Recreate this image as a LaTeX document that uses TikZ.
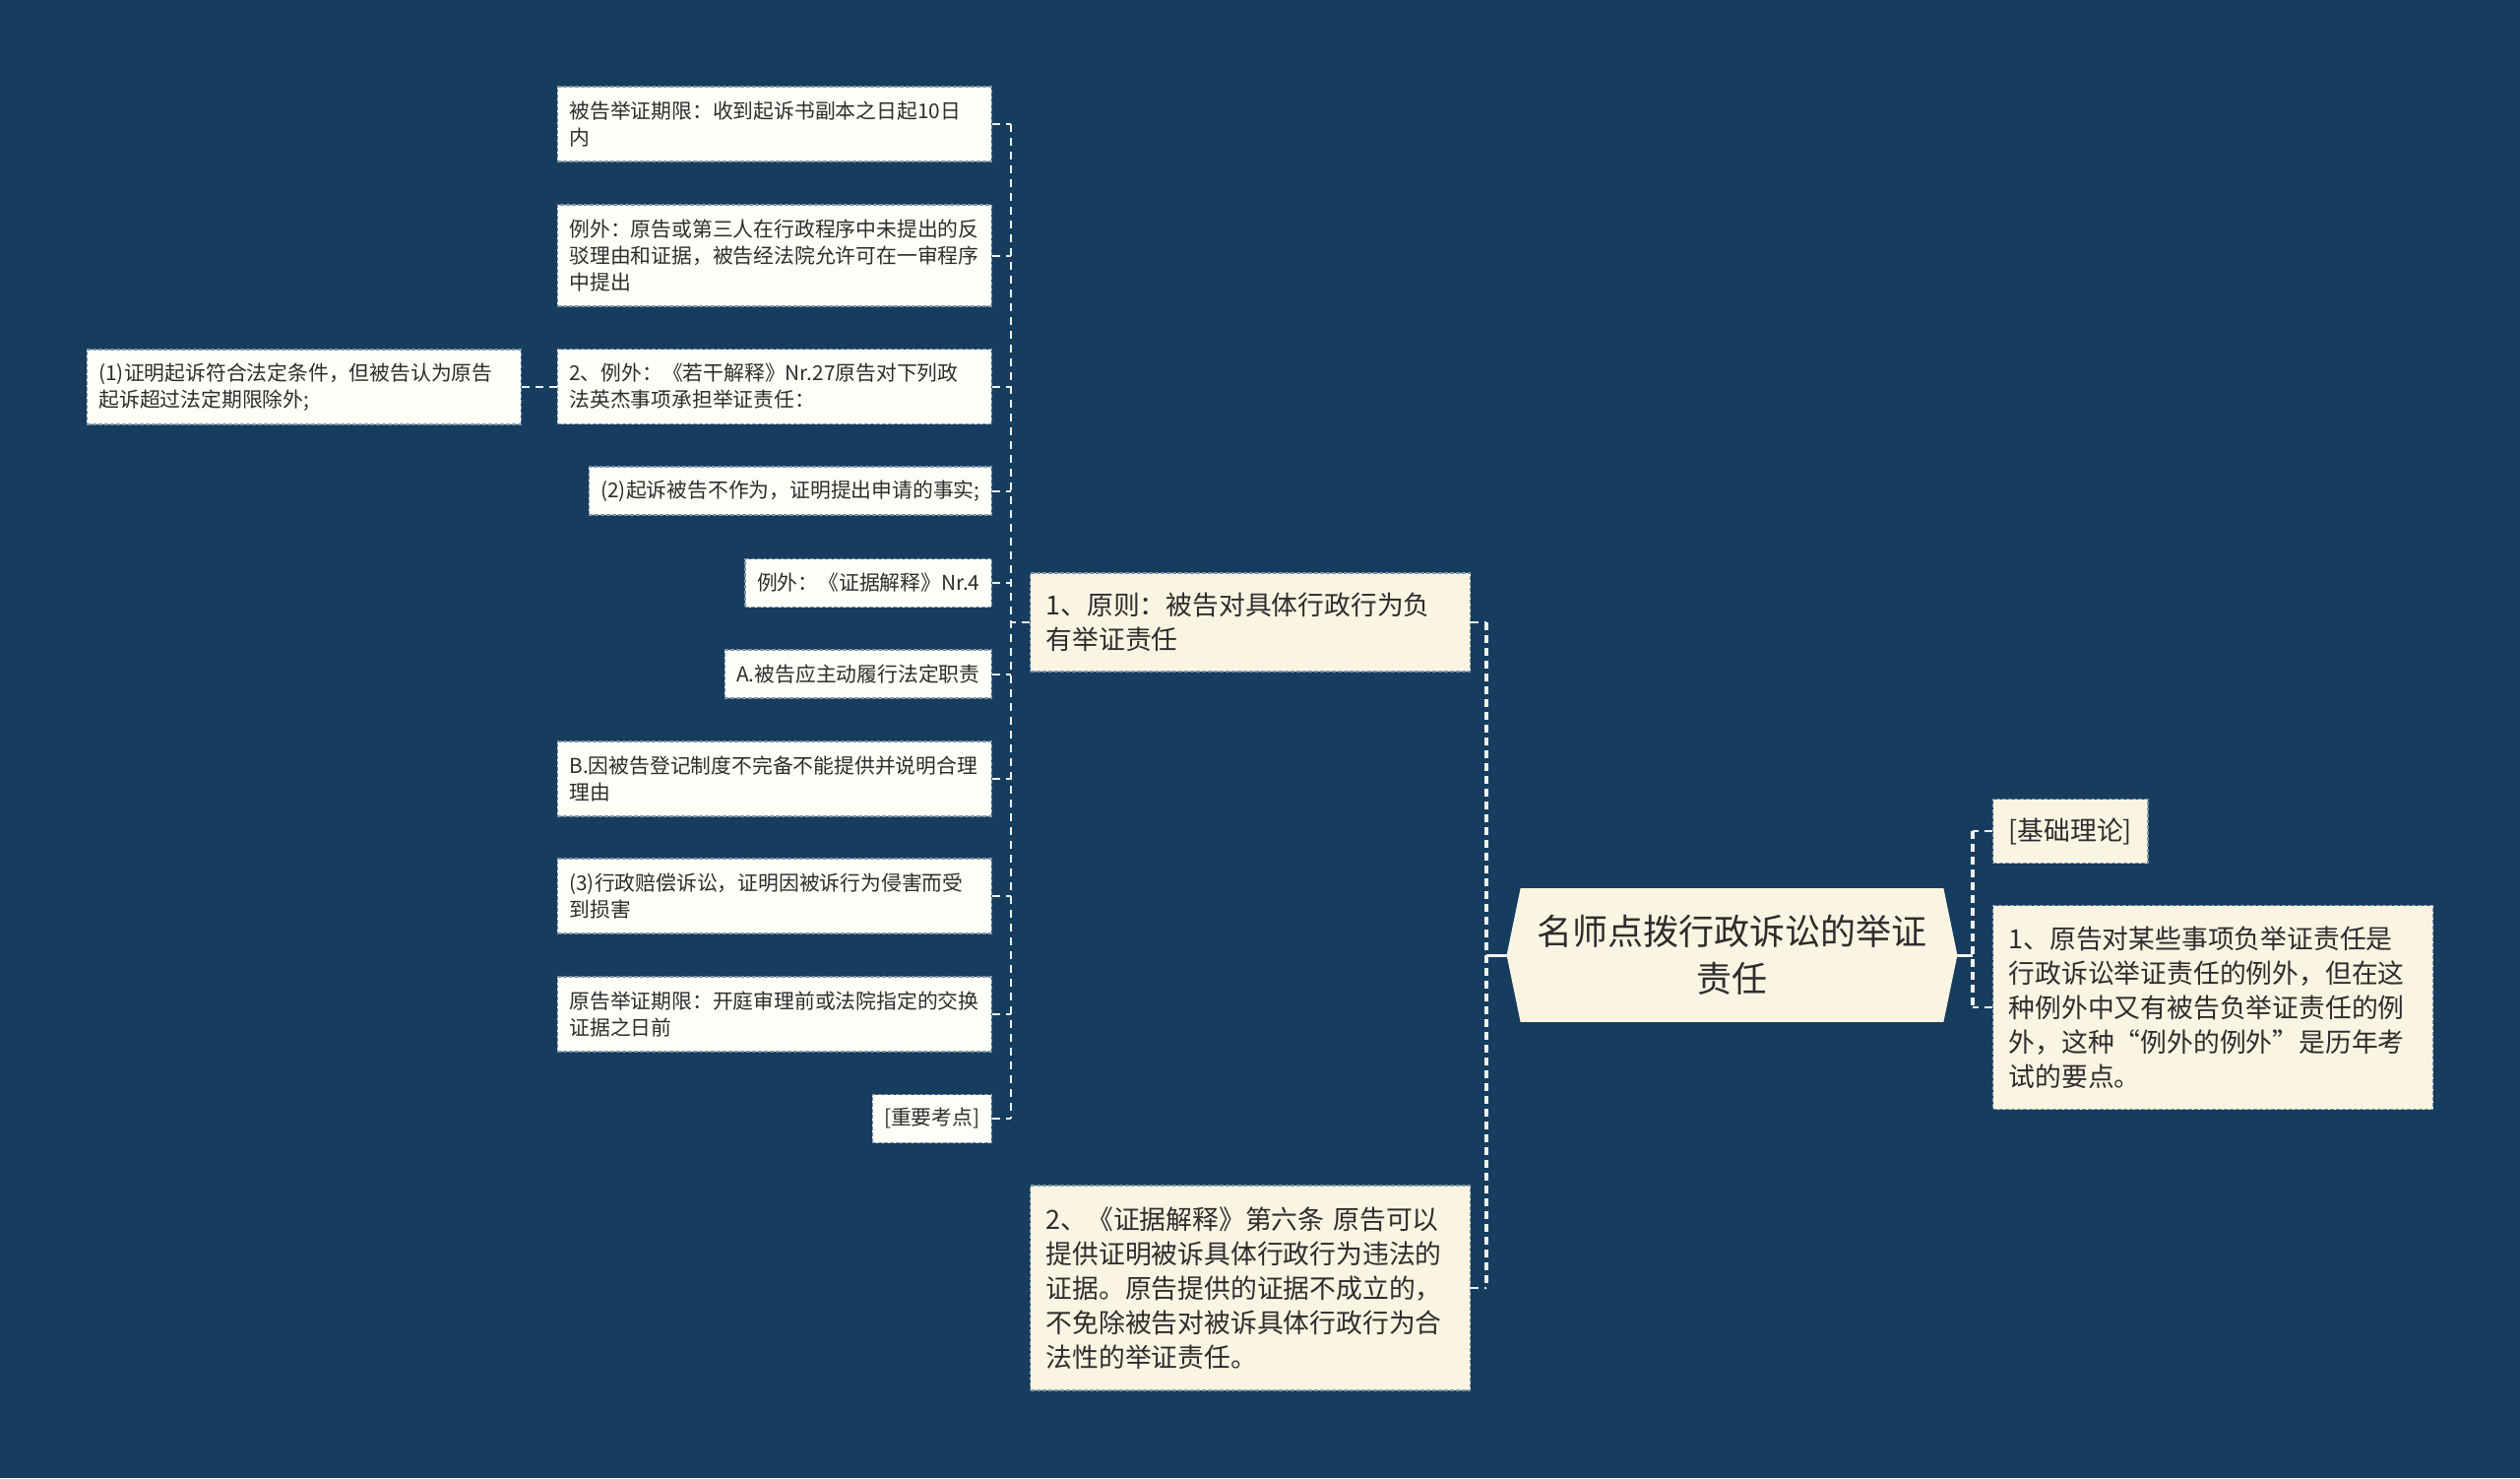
\documentclass[tikz,border=0pt]{standalone}
\usepackage{fontspec}
\setmainfont{Noto Sans CJK SC}
\usepackage{xcolor}
\definecolor{bgblue}{RGB}{23,61,94}
\definecolor{leafwhite}{RGB}{254,254,248}
\definecolor{creamfill}{RGB}{250,244,226}
\definecolor{textgray}{RGB}{45,45,45}
\definecolor{linkwhite}{RGB}{240,240,236}
\usetikzlibrary{positioning,calc,backgrounds}
\tikzset{
  leafbox/.style={rectangle,draw=bgblue!55!white,dash pattern=on 2pt off 1pt,line width=0.6pt,
    fill=leafwhite,text=textgray,align=left,font={\fontsize{10.4}{13.5}\selectfont},
    inner xsep=6pt,inner ysep=2pt,minimum height=24.5pt,anchor=east},
  wideleaf/.style={leafbox,text width=208.5pt},
  mainbox/.style={rectangle,draw=bgblue!55!white,dash pattern=on 2pt off 1pt,line width=0.6pt,
    fill=creamfill,text=textgray,align=left,font={\fontsize{13.4}{17.5}\selectfont},
    inner xsep=8pt,inner ysep=2pt,anchor=west},
  rootbox/.style={rectangle,text=textgray,align=center,font={\fontsize{18}{24}\selectfont},
    minimum width=228.5pt,minimum height=67.5pt,inner sep=0pt},
  tick/.style={draw=linkwhite,line width=1pt,dash pattern=on 4pt off 3pt},
  spine/.style={draw=linkwhite,line width=1pt,dash pattern=on 4pt off 3pt},
  mainspine/.style={draw=linkwhite,line width=1.6pt,dash pattern=on 4pt off 2.5pt},
  rootlink/.style={draw=linkwhite,line width=1.5pt},
}

\begin{document}
\begin{tikzpicture}[x=0.5pt,y=-0.5pt]
  \useasboundingbox (0,0) rectangle (2560,1501);
  % root
  \node[rootbox] (root) at (1759.5,970) {名师点拨行政诉讼的举证\\责任};
  \begin{scope}[on background layer]
    \fill[bgblue] (0,0) rectangle (2560,1501);
    \fill[creamfill] (root.west) -- ([xshift=7pt]root.north west) -- ([xshift=-7pt]root.north east)
      -- (root.east) -- ([xshift=-7pt]root.south east) -- ([xshift=7pt]root.south west) -- cycle;
  \end{scope}
  % main branches
  \node[mainbox,text width=207.5pt,minimum height=50pt] (m1) at (1046,632)
    {1、原则：被告对具体行政行为负\\有举证责任};
  \node[mainbox,text width=207.5pt,minimum height=104pt] (m2) at (1046,1308)
    {2、《证据解释》第六条 原告可以\\提供证明被诉具体行政行为违法的\\证据。原告提供的证据不成立的，\\不免除被告对被诉具体行政行为合\\法性的举证责任。};
  \node[mainbox,minimum height=32.5pt] (r1) at (2024,844) {[基础理论]};
  \node[mainbox,text width=207.5pt,minimum height=103.5pt] (r2) at (2024,1023)
    {1、原告对某些事项负举证责任是\\行政诉讼举证责任的例外，但在这\\种例外中又有被告负举证责任的例\\外，这种“例外的例外”是历年考\\试的要点。};
  % leaves of m1
  \node[wideleaf,minimum height=38pt] (a1) at (1008,126) {被告举证期限：收到起诉书副本之日起10日\\内};
  \node[wideleaf,minimum height=51.5pt] (a2) at (1008,259.5) {例外：原告或第三人在行政程序中未提出的反\\驳理由和证据，被告经法院允许可在一审程序\\中提出};
  \node[wideleaf,minimum height=38pt] (a3) at (1008,392.5) {2、例外：《若干解释》Nr.27原告对下列政\\法英杰事项承担举证责任：};
  \node[wideleaf,minimum height=38pt] (a4) at (530,393) {(1)证明起诉符合法定条件，但被告认为原告\\起诉超过法定期限除外;};
  \node[leafbox] (a5) at (1008,498.5) {(2)起诉被告不作为，证明提出申请的事实;};
  \node[leafbox] (a6) at (1008,592) {例外：《证据解释》Nr.4};
  \node[leafbox] (a7) at (1008,684.5) {A.被告应主动履行法定职责};
  \node[wideleaf,minimum height=38pt] (a8) at (1008,791) {B.因被告登记制度不完备不能提供并说明合理\\理由};
  \node[wideleaf,minimum height=38pt] (a9) at (1008,910) {(3)行政赔偿诉讼，证明因被诉行为侵害而受\\到损害};
  \node[wideleaf,minimum height=38pt] (a10) at (1008,1030) {原告举证期限：开庭审理前或法院指定的交换\\证据之日前};
  \node[leafbox] (a11) at (1008,1136) {[重要考点]};
  % connectors
  \coordinate (spL) at (1027,0);
  \coordinate (spM) at (1510,0);
  \coordinate (spR) at (2004,0);
  \draw[spine] (spL |- a1.east) -- (spL |- a11.east);
  \foreach \n in {a1,a2,a3,a5,a6,a7,a8,a9,a10,a11}
    \draw[tick] (\n.east) -- (spL |- \n.east);
  \draw[tick] (m1.west) -- (spL |- m1.west);
  \draw[tick] (a4.east) -- (a4.east -| a3.west);
  \draw[mainspine] (spM |- m1.east) -- (spM |- m2.east);
  \draw[tick] (m1.east) -- (spM |- m1.east);
  \draw[tick] (m2.east) -- (spM |- m2.east);
  \draw[rootlink] (root.west) -- (spM |- root.west);
  \draw[mainspine] (spR |- r1.west) -- (spR |- r2.west);
  \draw[tick] (r1.west) -- (spR |- r1.west);
  \draw[tick] (r2.west) -- (spR |- r2.west);
  \draw[rootlink] (root.east) -- (spR |- root.east);
\end{tikzpicture}
\end{document}
